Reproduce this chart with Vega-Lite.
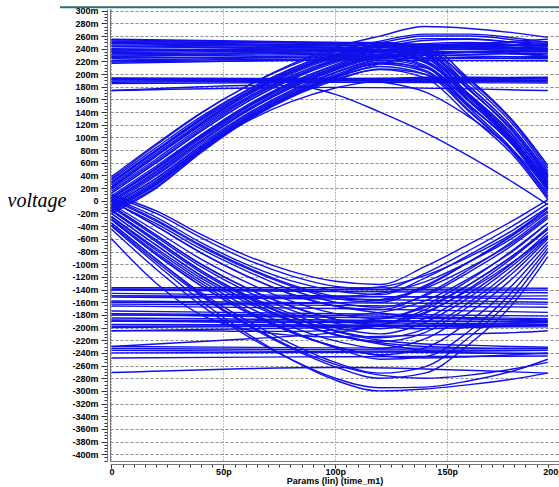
{
  "$schema": "https://vega.github.io/schema/vega-lite/v6.json",
  "width": 449,
  "height": 452,
  "autosize": {"type": "none"},
  "padding": {"left": 110, "top": 9, "right": 0, "bottom": 26},
  "background": "white",
  "config": {"view": {"stroke": null}},
  "layer": [
    {
      "data": {"values": [
        {"s":"u1","x":0,"y":255},{"s":"u1","x":100,"y":250},{"s":"u1","x":195,"y":240},
        {"s":"u2","x":0,"y":252},{"s":"u2","x":100,"y":248},{"s":"u2","x":195,"y":246},
        {"s":"u3","x":0,"y":249},{"s":"u3","x":100,"y":245},{"s":"u3","x":195,"y":251},
        {"s":"u4","x":0,"y":246},{"s":"u4","x":100,"y":243},{"s":"u4","x":195,"y":236},
        {"s":"u5","x":0,"y":243},{"s":"u5","x":100,"y":241},{"s":"u5","x":195,"y":255},
        {"s":"u6","x":0,"y":240},{"s":"u6","x":100,"y":238},{"s":"u6","x":195,"y":248},
        {"s":"u7","x":0,"y":236},{"s":"u7","x":100,"y":239},{"s":"u7","x":195,"y":230},
        {"s":"u8","x":0,"y":232},{"s":"u8","x":100,"y":235},{"s":"u8","x":195,"y":243},
        {"s":"u9","x":0,"y":228},{"s":"u9","x":100,"y":231},{"s":"u9","x":195,"y":226},
        {"s":"u10","x":0,"y":225},{"s":"u10","x":100,"y":229},{"s":"u10","x":195,"y":238},
        {"s":"u11","x":0,"y":222},{"s":"u11","x":100,"y":227},{"s":"u11","x":195,"y":233},
        {"s":"u12","x":0,"y":219},{"s":"u12","x":100,"y":222},{"s":"u12","x":195,"y":221},
        {"s":"u13","x":0,"y":217},{"s":"u13","x":100,"y":223},{"s":"u13","x":195,"y":228},
        {"s":"u14","x":0,"y":254},{"s":"u14","x":100,"y":249},{"s":"u14","x":195,"y":244},
        {"s":"u15","x":0,"y":250},{"s":"u15","x":100,"y":246},{"s":"u15","x":195,"y":241},
        {"s":"u16","x":0,"y":244},{"s":"u16","x":100,"y":242},{"s":"u16","x":195,"y":246},
        {"s":"u17","x":0,"y":238},{"s":"u17","x":100,"y":236},{"s":"u17","x":195,"y":233},
        {"s":"u18","x":0,"y":234},{"s":"u18","x":100,"y":237},{"s":"u18","x":195,"y":240},
        {"s":"u19","x":0,"y":230},{"s":"u19","x":100,"y":233},{"s":"u19","x":195,"y":236},
        {"s":"u20","x":0,"y":226},{"s":"u20","x":100,"y":226},{"s":"u20","x":195,"y":224},
        {"s":"u21","x":0,"y":221},{"s":"u21","x":100,"y":224},{"s":"u21","x":195,"y":225},
        {"s":"m1","x":0,"y":194},{"s":"m1","x":100,"y":193},{"s":"m1","x":195,"y":195},
        {"s":"m2","x":0,"y":192},{"s":"m2","x":100,"y":192},{"s":"m2","x":195,"y":193},
        {"s":"m3","x":0,"y":189},{"s":"m3","x":100,"y":190},{"s":"m3","x":195,"y":190},
        {"s":"m4","x":0,"y":187},{"s":"m4","x":100,"y":189},{"s":"m4","x":195,"y":188},
        {"s":"m5","x":0,"y":185},{"s":"m5","x":100,"y":187},{"s":"m5","x":195,"y":186},
        {"s":"m6","x":0,"y":174},{"s":"m6","x":100,"y":179},{"s":"m6","x":195,"y":174},
        {"s":"m7","x":0,"y":193},{"s":"m7","x":100,"y":191},{"s":"m7","x":195,"y":192},
        {"s":"l1","x":0,"y":-137},{"s":"l1","x":100,"y":-137},{"s":"l1","x":195,"y":-138},
        {"s":"l2","x":0,"y":-141},{"s":"l2","x":100,"y":-143},{"s":"l2","x":195,"y":-145},
        {"s":"l3","x":0,"y":-146},{"s":"l3","x":100,"y":-150},{"s":"l3","x":195,"y":-155},
        {"s":"l4","x":0,"y":-152},{"s":"l4","x":100,"y":-155},{"s":"l4","x":195,"y":-160},
        {"s":"l5","x":0,"y":-158},{"s":"l5","x":100,"y":-161},{"s":"l5","x":195,"y":-163},
        {"s":"l6","x":0,"y":-166},{"s":"l6","x":100,"y":-170},{"s":"l6","x":195,"y":-176},
        {"s":"l7","x":0,"y":-174},{"s":"l7","x":100,"y":-178},{"s":"l7","x":195,"y":-182},
        {"s":"l8","x":0,"y":-180},{"s":"l8","x":100,"y":-184},{"s":"l8","x":195,"y":-188},
        {"s":"l9","x":0,"y":-185},{"s":"l9","x":100,"y":-188},{"s":"l9","x":195,"y":-192},
        {"s":"l10","x":0,"y":-190},{"s":"l10","x":100,"y":-192},{"s":"l10","x":195,"y":-195},
        {"s":"l11","x":0,"y":-195},{"s":"l11","x":100,"y":-196},{"s":"l11","x":195,"y":-197},
        {"s":"l12","x":0,"y":-200},{"s":"l12","x":100,"y":-198},{"s":"l12","x":195,"y":-199},
        {"s":"l13","x":0,"y":-205},{"s":"l13","x":100,"y":-200},{"s":"l13","x":195,"y":-192},
        {"s":"l14","x":0,"y":-230},{"s":"l14","x":100,"y":-232},{"s":"l14","x":195,"y":-233},
        {"s":"l15","x":0,"y":-236},{"s":"l15","x":100,"y":-238},{"s":"l15","x":195,"y":-241},
        {"s":"l16","x":0,"y":-240},{"s":"l16","x":100,"y":-239},{"s":"l16","x":195,"y":-236},
        {"s":"l17","x":0,"y":-248},{"s":"l17","x":100,"y":-246},{"s":"l17","x":195,"y":-245},
        {"s":"l18","x":0,"y":-271},{"s":"l18","x":100,"y":-263},{"s":"l18","x":195,"y":-272},
        {"s":"l19","x":0,"y":-139},{"s":"l19","x":100,"y":-140},{"s":"l19","x":195,"y":-141},
        {"s":"l20","x":0,"y":-150},{"s":"l20","x":100,"y":-152},{"s":"l20","x":195,"y":-150},
        {"s":"l21","x":0,"y":-163},{"s":"l21","x":100,"y":-165},{"s":"l21","x":195,"y":-168},
        {"s":"l22","x":0,"y":-178},{"s":"l22","x":100,"y":-181},{"s":"l22","x":195,"y":-186},
        {"s":"l23","x":0,"y":-188},{"s":"l23","x":100,"y":-190},{"s":"l23","x":195,"y":-190},
        {"s":"l24","x":0,"y":-198},{"s":"l24","x":100,"y":-197},{"s":"l24","x":195,"y":-196},
        {"s":"l25","x":0,"y":-233},{"s":"l25","x":100,"y":-235},{"s":"l25","x":195,"y":-236},

        {"s":"a1","x":0,"y":38},{"s":"a1","x":20,"y":90},{"s":"a1","x":40,"y":139},{"s":"a1","x":60,"y":180},{"s":"a1","x":80,"y":213},{"s":"a1","x":100,"y":237},{"s":"a1","x":120,"y":250},{"s":"a1","x":140,"y":242},{"s":"a1","x":160,"y":186},{"s":"a1","x":180,"y":118},{"s":"a1","x":195,"y":48},
        {"s":"a2","x":0,"y":33},{"s":"a2","x":20,"y":84},{"s":"a2","x":40,"y":133},{"s":"a2","x":60,"y":174},{"s":"a2","x":80,"y":207},{"s":"a2","x":100,"y":231},{"s":"a2","x":120,"y":244},{"s":"a2","x":140,"y":232},{"s":"a2","x":160,"y":166},{"s":"a2","x":180,"y":96},{"s":"a2","x":195,"y":28},
        {"s":"a3","x":0,"y":25},{"s":"a3","x":20,"y":75},{"s":"a3","x":40,"y":124},{"s":"a3","x":60,"y":168},{"s":"a3","x":80,"y":202},{"s":"a3","x":100,"y":228},{"s":"a3","x":120,"y":246},{"s":"a3","x":140,"y":240},{"s":"a3","x":160,"y":180},{"s":"a3","x":180,"y":112},{"s":"a3","x":195,"y":42},
        {"s":"a4","x":0,"y":20},{"s":"a4","x":20,"y":70},{"s":"a4","x":40,"y":119},{"s":"a4","x":60,"y":162},{"s":"a4","x":80,"y":197},{"s":"a4","x":100,"y":222},{"s":"a4","x":120,"y":238},{"s":"a4","x":140,"y":226},{"s":"a4","x":160,"y":158},{"s":"a4","x":180,"y":88},{"s":"a4","x":195,"y":18},
        {"s":"a5","x":0,"y":12},{"s":"a5","x":20,"y":60},{"s":"a5","x":40,"y":110},{"s":"a5","x":60,"y":155},{"s":"a5","x":80,"y":191},{"s":"a5","x":100,"y":218},{"s":"a5","x":120,"y":237},{"s":"a5","x":140,"y":232},{"s":"a5","x":160,"y":174},{"s":"a5","x":180,"y":108},{"s":"a5","x":195,"y":38},
        {"s":"a6","x":0,"y":8},{"s":"a6","x":20,"y":55},{"s":"a6","x":40,"y":104},{"s":"a6","x":60,"y":150},{"s":"a6","x":80,"y":186},{"s":"a6","x":100,"y":213},{"s":"a6","x":120,"y":230},{"s":"a6","x":140,"y":220},{"s":"a6","x":160,"y":158},{"s":"a6","x":180,"y":92},{"s":"a6","x":195,"y":22},
        {"s":"a7","x":0,"y":3},{"s":"a7","x":20,"y":50},{"s":"a7","x":40,"y":100},{"s":"a7","x":60,"y":146},{"s":"a7","x":80,"y":182},{"s":"a7","x":100,"y":210},{"s":"a7","x":120,"y":226},{"s":"a7","x":140,"y":212},{"s":"a7","x":160,"y":146},{"s":"a7","x":180,"y":78},{"s":"a7","x":195,"y":8},
        {"s":"a8","x":0,"y":0},{"s":"a8","x":20,"y":47},{"s":"a8","x":40,"y":98},{"s":"a8","x":60,"y":143},{"s":"a8","x":80,"y":180},{"s":"a8","x":100,"y":208},{"s":"a8","x":120,"y":229},{"s":"a8","x":140,"y":224},{"s":"a8","x":160,"y":168},{"s":"a8","x":180,"y":102},{"s":"a8","x":195,"y":32},
        {"s":"a9","x":0,"y":-5},{"s":"a9","x":20,"y":40},{"s":"a9","x":40,"y":90},{"s":"a9","x":60,"y":136},{"s":"a9","x":80,"y":174},{"s":"a9","x":100,"y":203},{"s":"a9","x":120,"y":222},{"s":"a9","x":140,"y":211},{"s":"a9","x":160,"y":151},{"s":"a9","x":180,"y":85},{"s":"a9","x":195,"y":15},
        {"s":"a10","x":0,"y":-10},{"s":"a10","x":20,"y":32},{"s":"a10","x":40,"y":83},{"s":"a10","x":60,"y":130},{"s":"a10","x":80,"y":168},{"s":"a10","x":100,"y":197},{"s":"a10","x":120,"y":217},{"s":"a10","x":140,"y":210},{"s":"a10","x":160,"y":158},{"s":"a10","x":180,"y":96},{"s":"a10","x":195,"y":26},
        {"s":"a11","x":0,"y":-14},{"s":"a11","x":20,"y":26},{"s":"a11","x":40,"y":79},{"s":"a11","x":60,"y":128},{"s":"a11","x":80,"y":166},{"s":"a11","x":100,"y":194},{"s":"a11","x":120,"y":212},{"s":"a11","x":140,"y":200},{"s":"a11","x":160,"y":140},{"s":"a11","x":180,"y":74},{"s":"a11","x":195,"y":5},
        {"s":"a12","x":0,"y":-20},{"s":"a12","x":20,"y":20},{"s":"a12","x":40,"y":76},{"s":"a12","x":60,"y":125},{"s":"a12","x":80,"y":163},{"s":"a12","x":100,"y":190},{"s":"a12","x":120,"y":208},{"s":"a12","x":140,"y":200},{"s":"a12","x":160,"y":148},{"s":"a12","x":180,"y":89},{"s":"a12","x":195,"y":20},
        {"s":"a13","x":0,"y":-17},{"s":"a13","x":20,"y":22},{"s":"a13","x":40,"y":78},{"s":"a13","x":60,"y":126},{"s":"a13","x":80,"y":164},{"s":"a13","x":100,"y":192},{"s":"a13","x":120,"y":207},{"s":"a13","x":140,"y":194},{"s":"a13","x":160,"y":134},{"s":"a13","x":180,"y":70},{"s":"a13","x":195,"y":2},
        {"s":"a14","x":0,"y":174},{"s":"a14","x":20,"y":177},{"s":"a14","x":40,"y":180},{"s":"a14","x":60,"y":182},{"s":"a14","x":80,"y":182},{"s":"a14","x":100,"y":168},{"s":"a14","x":120,"y":140},{"s":"a14","x":140,"y":108},{"s":"a14","x":160,"y":70},{"s":"a14","x":180,"y":28},{"s":"a14","x":195,"y":-6},
        {"s":"a15","x":0,"y":30},{"s":"a15","x":20,"y":80},{"s":"a15","x":40,"y":128},{"s":"a15","x":60,"y":170},{"s":"a15","x":80,"y":204},{"s":"a15","x":100,"y":229},{"s":"a15","x":120,"y":243},{"s":"a15","x":140,"y":236},{"s":"a15","x":160,"y":176},{"s":"a15","x":180,"y":106},{"s":"a15","x":195,"y":36},
        {"s":"a16","x":0,"y":15},{"s":"a16","x":20,"y":63},{"s":"a16","x":40,"y":113},{"s":"a16","x":60,"y":158},{"s":"a16","x":80,"y":194},{"s":"a16","x":100,"y":220},{"s":"a16","x":120,"y":236},{"s":"a16","x":140,"y":222},{"s":"a16","x":160,"y":163},{"s":"a16","x":180,"y":96},{"s":"a16","x":195,"y":30},
        {"s":"a17","x":0,"y":5},{"s":"a17","x":20,"y":52},{"s":"a17","x":40,"y":102},{"s":"a17","x":60,"y":147},{"s":"a17","x":80,"y":184},{"s":"a17","x":100,"y":211},{"s":"a17","x":120,"y":228},{"s":"a17","x":140,"y":214},{"s":"a17","x":160,"y":156},{"s":"a17","x":180,"y":90},{"s":"a17","x":195,"y":24},
        {"s":"a18","x":0,"y":-8},{"s":"a18","x":20,"y":35},{"s":"a18","x":40,"y":85},{"s":"a18","x":60,"y":132},{"s":"a18","x":80,"y":170},{"s":"a18","x":100,"y":199},{"s":"a18","x":120,"y":219},{"s":"a18","x":140,"y":206},{"s":"a18","x":160,"y":150},{"s":"a18","x":180,"y":86},{"s":"a18","x":195,"y":20},
        {"s":"a19","x":0,"y":22},{"s":"a19","x":20,"y":72},{"s":"a19","x":40,"y":121},{"s":"a19","x":60,"y":165},{"s":"a19","x":80,"y":200},{"s":"a19","x":100,"y":226},{"s":"a19","x":120,"y":243},{"s":"a19","x":140,"y":244},{"s":"a19","x":160,"y":192},{"s":"a19","x":180,"y":124},{"s":"a19","x":195,"y":56},
        {"s":"a20","x":0,"y":0},{"s":"a20","x":20,"y":45},{"s":"a20","x":40,"y":95},{"s":"a20","x":60,"y":141},{"s":"a20","x":80,"y":178},{"s":"a20","x":100,"y":206},{"s":"a20","x":120,"y":226},{"s":"a20","x":140,"y":230},{"s":"a20","x":160,"y":180},{"s":"a20","x":180,"y":112},{"s":"a20","x":195,"y":45},
        {"s":"a21","x":0,"y":-12},{"s":"a21","x":20,"y":30},{"s":"a21","x":40,"y":82},{"s":"a21","x":60,"y":129},{"s":"a21","x":80,"y":167},{"s":"a21","x":100,"y":196},{"s":"a21","x":120,"y":216},{"s":"a21","x":140,"y":204},{"s":"a21","x":160,"y":142},{"s":"a21","x":180,"y":76},{"s":"a21","x":195,"y":12},
        {"s":"a22","x":0,"y":28},{"s":"a22","x":20,"y":78},{"s":"a22","x":40,"y":127},{"s":"a22","x":60,"y":170},{"s":"a22","x":80,"y":205},{"s":"a22","x":100,"y":230},{"s":"a22","x":120,"y":245},{"s":"a22","x":140,"y":230},{"s":"a22","x":160,"y":164},{"s":"a22","x":180,"y":94},{"s":"a22","x":195,"y":30},
        {"s":"h1","x":0,"y":248},{"s":"h1","x":20,"y":247},{"s":"h1","x":40,"y":246},{"s":"h1","x":60,"y":246},{"s":"h1","x":80,"y":246},{"s":"h1","x":100,"y":246},{"s":"h1","x":120,"y":244},{"s":"h1","x":140,"y":230},{"s":"h1","x":160,"y":175},{"s":"h1","x":180,"y":108},{"s":"h1","x":195,"y":40},
        {"s":"h2","x":0,"y":238},{"s":"h2","x":20,"y":238},{"s":"h2","x":40,"y":239},{"s":"h2","x":60,"y":240},{"s":"h2","x":80,"y":241},{"s":"h2","x":100,"y":241},{"s":"h2","x":120,"y":238},{"s":"h2","x":140,"y":220},{"s":"h2","x":160,"y":162},{"s":"h2","x":180,"y":94},{"s":"h2","x":195,"y":25},
        {"s":"h3","x":0,"y":228},{"s":"h3","x":20,"y":229},{"s":"h3","x":40,"y":231},{"s":"h3","x":60,"y":233},{"s":"h3","x":80,"y":235},{"s":"h3","x":100,"y":236},{"s":"h3","x":120,"y":233},{"s":"h3","x":140,"y":218},{"s":"h3","x":160,"y":166},{"s":"h3","x":180,"y":100},{"s":"h3","x":195,"y":35},
        {"s":"h4","x":0,"y":191},{"s":"h4","x":20,"y":191},{"s":"h4","x":40,"y":192},{"s":"h4","x":60,"y":192},{"s":"h4","x":80,"y":193},{"s":"h4","x":100,"y":193},{"s":"h4","x":120,"y":188},{"s":"h4","x":140,"y":172},{"s":"h4","x":160,"y":132},{"s":"h4","x":180,"y":78},{"s":"h4","x":195,"y":18},
        {"s":"h5","x":0,"y":252},{"s":"h5","x":20,"y":251},{"s":"h5","x":40,"y":250},{"s":"h5","x":60,"y":250},{"s":"h5","x":80,"y":250},{"s":"h5","x":100,"y":250},{"s":"h5","x":120,"y":250},{"s":"h5","x":140,"y":240},{"s":"h5","x":160,"y":190},{"s":"h5","x":180,"y":122},{"s":"h5","x":195,"y":52},
        {"s":"s1","x":0,"y":35},{"s":"s1","x":20,"y":88},{"s":"s1","x":40,"y":138},{"s":"s1","x":60,"y":180},{"s":"s1","x":80,"y":215},{"s":"s1","x":100,"y":242},{"s":"s1","x":120,"y":260},{"s":"s1","x":140,"y":275},{"s":"s1","x":160,"y":272},{"s":"s1","x":180,"y":265},{"s":"s1","x":195,"y":258},
        {"s":"s2","x":0,"y":28},{"s":"s2","x":20,"y":80},{"s":"s2","x":40,"y":130},{"s":"s2","x":60,"y":173},{"s":"s2","x":80,"y":208},{"s":"s2","x":100,"y":235},{"s":"s2","x":120,"y":252},{"s":"s2","x":140,"y":263},{"s":"s2","x":160,"y":263},{"s":"s2","x":180,"y":257},{"s":"s2","x":195,"y":250},
        {"s":"s3","x":0,"y":18},{"s":"s3","x":20,"y":66},{"s":"s3","x":40,"y":116},{"s":"s3","x":60,"y":160},{"s":"s3","x":80,"y":196},{"s":"s3","x":100,"y":224},{"s":"s3","x":120,"y":244},{"s":"s3","x":140,"y":256},{"s":"s3","x":160,"y":256},{"s":"s3","x":180,"y":250},{"s":"s3","x":195,"y":244},
        {"s":"s4","x":0,"y":5},{"s":"s4","x":20,"y":52},{"s":"s4","x":40,"y":103},{"s":"s4","x":60,"y":148},{"s":"s4","x":80,"y":186},{"s":"s4","x":100,"y":215},{"s":"s4","x":120,"y":236},{"s":"s4","x":140,"y":248},{"s":"s4","x":160,"y":250},{"s":"s4","x":180,"y":246},{"s":"s4","x":195,"y":240},
        {"s":"s5","x":0,"y":-6},{"s":"s5","x":20,"y":36},{"s":"s5","x":40,"y":87},{"s":"s5","x":60,"y":134},{"s":"s5","x":80,"y":172},{"s":"s5","x":100,"y":202},{"s":"s5","x":120,"y":224},{"s":"s5","x":140,"y":238},{"s":"s5","x":160,"y":242},{"s":"s5","x":180,"y":240},{"s":"s5","x":195,"y":236},
        {"s":"s6","x":0,"y":-15},{"s":"s6","x":20,"y":25},{"s":"s6","x":40,"y":80},{"s":"s6","x":60,"y":128},{"s":"s6","x":80,"y":166},{"s":"s6","x":100,"y":195},{"s":"s6","x":120,"y":216},{"s":"s6","x":140,"y":230},{"s":"s6","x":160,"y":234},{"s":"s6","x":180,"y":232},{"s":"s6","x":195,"y":228},
        {"s":"s7","x":0,"y":-12},{"s":"s7","x":20,"y":28},{"s":"s7","x":40,"y":80},{"s":"s7","x":60,"y":124},{"s":"s7","x":80,"y":156},{"s":"s7","x":100,"y":178},{"s":"s7","x":120,"y":190},{"s":"s7","x":140,"y":195},{"s":"s7","x":160,"y":195},{"s":"s7","x":180,"y":194},{"s":"s7","x":195,"y":193},
        {"s":"s8","x":0,"y":12},{"s":"s8","x":20,"y":60},{"s":"s8","x":40,"y":110},{"s":"s8","x":60,"y":155},{"s":"s8","x":80,"y":192},{"s":"s8","x":100,"y":221},{"s":"s8","x":120,"y":241},{"s":"s8","x":140,"y":253},{"s":"s8","x":160,"y":255},{"s":"s8","x":180,"y":250},{"s":"s8","x":195,"y":246},
        {"s":"s9","x":0,"y":22},{"s":"s9","x":20,"y":72},{"s":"s9","x":40,"y":122},{"s":"s9","x":60,"y":166},{"s":"s9","x":80,"y":202},{"s":"s9","x":100,"y":230},{"s":"s9","x":120,"y":249},{"s":"s9","x":140,"y":260},{"s":"s9","x":160,"y":260},{"s":"s9","x":180,"y":254},{"s":"s9","x":195,"y":247},
        {"s":"s10","x":0,"y":-2},{"s":"s10","x":20,"y":42},{"s":"s10","x":40,"y":93},{"s":"s10","x":60,"y":140},{"s":"s10","x":80,"y":178},{"s":"s10","x":100,"y":208},{"s":"s10","x":120,"y":229},{"s":"s10","x":140,"y":242},{"s":"s10","x":160,"y":245},{"s":"s10","x":180,"y":242},{"s":"s10","x":195,"y":238},
        {"s":"d1","x":0,"y":10},{"s":"d1","x":20,"y":-16},{"s":"d1","x":40,"y":-53},{"s":"d1","x":60,"y":-86},{"s":"d1","x":80,"y":-111},{"s":"d1","x":100,"y":-127},{"s":"d1","x":120,"y":-132},{"s":"d1","x":140,"y":-104},{"s":"d1","x":160,"y":-68},{"s":"d1","x":180,"y":-30},{"s":"d1","x":195,"y":2},
        {"s":"d2","x":0,"y":5},{"s":"d2","x":20,"y":-26},{"s":"d2","x":40,"y":-66},{"s":"d2","x":60,"y":-100},{"s":"d2","x":80,"y":-126},{"s":"d2","x":100,"y":-142},{"s":"d2","x":120,"y":-148},{"s":"d2","x":140,"y":-122},{"s":"d2","x":160,"y":-85},{"s":"d2","x":180,"y":-45},{"s":"d2","x":195,"y":-10},
        {"s":"d3","x":0,"y":0},{"s":"d3","x":20,"y":-40},{"s":"d3","x":40,"y":-82},{"s":"d3","x":60,"y":-118},{"s":"d3","x":80,"y":-147},{"s":"d3","x":100,"y":-166},{"s":"d3","x":120,"y":-172},{"s":"d3","x":140,"y":-148},{"s":"d3","x":160,"y":-108},{"s":"d3","x":180,"y":-62},{"s":"d3","x":195,"y":-22},
        {"s":"d4","x":0,"y":-5},{"s":"d4","x":20,"y":-48},{"s":"d4","x":40,"y":-92},{"s":"d4","x":60,"y":-128},{"s":"d4","x":80,"y":-158},{"s":"d4","x":100,"y":-178},{"s":"d4","x":120,"y":-186},{"s":"d4","x":140,"y":-165},{"s":"d4","x":160,"y":-125},{"s":"d4","x":180,"y":-76},{"s":"d4","x":195,"y":-35},
        {"s":"d5","x":0,"y":-8},{"s":"d5","x":20,"y":-54},{"s":"d5","x":40,"y":-100},{"s":"d5","x":60,"y":-137},{"s":"d5","x":80,"y":-166},{"s":"d5","x":100,"y":-187},{"s":"d5","x":120,"y":-195},{"s":"d5","x":140,"y":-178},{"s":"d5","x":160,"y":-138},{"s":"d5","x":180,"y":-88},{"s":"d5","x":195,"y":-45},
        {"s":"d6","x":0,"y":-14},{"s":"d6","x":20,"y":-62},{"s":"d6","x":40,"y":-110},{"s":"d6","x":60,"y":-148},{"s":"d6","x":80,"y":-178},{"s":"d6","x":100,"y":-200},{"s":"d6","x":120,"y":-210},{"s":"d6","x":140,"y":-192},{"s":"d6","x":160,"y":-152},{"s":"d6","x":180,"y":-100},{"s":"d6","x":195,"y":-55},
        {"s":"d7","x":0,"y":-20},{"s":"d7","x":20,"y":-70},{"s":"d7","x":40,"y":-118},{"s":"d7","x":60,"y":-156},{"s":"d7","x":80,"y":-188},{"s":"d7","x":100,"y":-211},{"s":"d7","x":120,"y":-222},{"s":"d7","x":140,"y":-208},{"s":"d7","x":160,"y":-166},{"s":"d7","x":180,"y":-112},{"s":"d7","x":195,"y":-60},
        {"s":"d8","x":0,"y":-30},{"s":"d8","x":20,"y":-85},{"s":"d8","x":40,"y":-134},{"s":"d8","x":60,"y":-175},{"s":"d8","x":80,"y":-207},{"s":"d8","x":100,"y":-230},{"s":"d8","x":120,"y":-243},{"s":"d8","x":140,"y":-232},{"s":"d8","x":160,"y":-190},{"s":"d8","x":180,"y":-130},{"s":"d8","x":195,"y":-70},
        {"s":"d9","x":0,"y":-35},{"s":"d9","x":20,"y":-92},{"s":"d9","x":40,"y":-145},{"s":"d9","x":60,"y":-188},{"s":"d9","x":80,"y":-225},{"s":"d9","x":100,"y":-255},{"s":"d9","x":120,"y":-272},{"s":"d9","x":140,"y":-262},{"s":"d9","x":160,"y":-215},{"s":"d9","x":180,"y":-150},{"s":"d9","x":195,"y":-80},
        {"s":"d10","x":0,"y":2},{"s":"d10","x":20,"y":-32},{"s":"d10","x":40,"y":-72},{"s":"d10","x":60,"y":-106},{"s":"d10","x":80,"y":-134},{"s":"d10","x":100,"y":-154},{"s":"d10","x":120,"y":-160},{"s":"d10","x":140,"y":-136},{"s":"d10","x":160,"y":-96},{"s":"d10","x":180,"y":-52},{"s":"d10","x":195,"y":-12},
        {"s":"d11","x":0,"y":-2},{"s":"d11","x":20,"y":-36},{"s":"d11","x":40,"y":-76},{"s":"d11","x":60,"y":-110},{"s":"d11","x":80,"y":-140},{"s":"d11","x":100,"y":-160},{"s":"d11","x":120,"y":-168},{"s":"d11","x":140,"y":-150},{"s":"d11","x":160,"y":-112},{"s":"d11","x":180,"y":-68},{"s":"d11","x":195,"y":-28},
        {"s":"d12","x":0,"y":8},{"s":"d12","x":20,"y":-20},{"s":"d12","x":40,"y":-58},{"s":"d12","x":60,"y":-92},{"s":"d12","x":80,"y":-118},{"s":"d12","x":100,"y":-135},{"s":"d12","x":120,"y":-140},{"s":"d12","x":140,"y":-115},{"s":"d12","x":160,"y":-78},{"s":"d12","x":180,"y":-38},{"s":"d12","x":195,"y":-4},
        {"s":"d13","x":0,"y":-25},{"s":"d13","x":20,"y":-78},{"s":"d13","x":40,"y":-126},{"s":"d13","x":60,"y":-166},{"s":"d13","x":80,"y":-198},{"s":"d13","x":100,"y":-221},{"s":"d13","x":120,"y":-233},{"s":"d13","x":140,"y":-218},{"s":"d13","x":160,"y":-176},{"s":"d13","x":180,"y":-120},{"s":"d13","x":195,"y":-65},
        {"s":"d14","x":0,"y":-38},{"s":"d14","x":20,"y":-96},{"s":"d14","x":40,"y":-150},{"s":"d14","x":60,"y":-195},{"s":"d14","x":80,"y":-232},{"s":"d14","x":100,"y":-262},{"s":"d14","x":120,"y":-280},{"s":"d14","x":140,"y":-272},{"s":"d14","x":160,"y":-226},{"s":"d14","x":180,"y":-160},{"s":"d14","x":195,"y":-88},
        {"s":"d15","x":0,"y":-28},{"s":"d15","x":20,"y":-82},{"s":"d15","x":40,"y":-130},{"s":"d15","x":60,"y":-172},{"s":"d15","x":80,"y":-205},{"s":"d15","x":100,"y":-232},{"s":"d15","x":120,"y":-250},{"s":"d15","x":140,"y":-246},{"s":"d15","x":160,"y":-205},{"s":"d15","x":180,"y":-140},{"s":"d15","x":195,"y":-75},
        {"s":"d16","x":0,"y":-10},{"s":"d16","x":20,"y":-57},{"s":"d16","x":40,"y":-104},{"s":"d16","x":60,"y":-142},{"s":"d16","x":80,"y":-172},{"s":"d16","x":100,"y":-193},{"s":"d16","x":120,"y":-202},{"s":"d16","x":140,"y":-186},{"s":"d16","x":160,"y":-146},{"s":"d16","x":180,"y":-96},{"s":"d16","x":195,"y":-50},
        {"s":"d17","x":0,"y":4},{"s":"d17","x":20,"y":-30},{"s":"d17","x":40,"y":-70},{"s":"d17","x":60,"y":-104},{"s":"d17","x":80,"y":-132},{"s":"d17","x":100,"y":-151},{"s":"d17","x":120,"y":-157},{"s":"d17","x":140,"y":-134},{"s":"d17","x":160,"y":-96},{"s":"d17","x":180,"y":-53},{"s":"d17","x":195,"y":-16},
        {"s":"d18","x":0,"y":-16},{"s":"d18","x":20,"y":-65},{"s":"d18","x":40,"y":-113},{"s":"d18","x":60,"y":-152},{"s":"d18","x":80,"y":-183},{"s":"d18","x":100,"y":-205},{"s":"d18","x":120,"y":-216},{"s":"d18","x":140,"y":-202},{"s":"d18","x":160,"y":-160},{"s":"d18","x":180,"y":-106},{"s":"d18","x":195,"y":-57},
        {"s":"p1","x":0,"y":-40},{"s":"p1","x":20,"y":-100},{"s":"p1","x":40,"y":-158},{"s":"p1","x":60,"y":-208},{"s":"p1","x":80,"y":-250},{"s":"p1","x":100,"y":-283},{"s":"p1","x":120,"y":-300},{"s":"p1","x":140,"y":-297},{"s":"p1","x":160,"y":-290},{"s":"p1","x":180,"y":-281},{"s":"p1","x":195,"y":-272},
        {"s":"p2","x":0,"y":-30},{"s":"p2","x":20,"y":-85},{"s":"p2","x":40,"y":-134},{"s":"p2","x":60,"y":-175},{"s":"p2","x":80,"y":-207},{"s":"p2","x":100,"y":-230},{"s":"p2","x":120,"y":-244},{"s":"p2","x":140,"y":-248},{"s":"p2","x":160,"y":-246},{"s":"p2","x":180,"y":-243},{"s":"p2","x":195,"y":-240},
        {"s":"p3","x":0,"y":-20},{"s":"p3","x":20,"y":-70},{"s":"p3","x":40,"y":-118},{"s":"p3","x":60,"y":-156},{"s":"p3","x":80,"y":-188},{"s":"p3","x":100,"y":-211},{"s":"p3","x":120,"y":-224},{"s":"p3","x":140,"y":-230},{"s":"p3","x":160,"y":-232},{"s":"p3","x":180,"y":-233},{"s":"p3","x":195,"y":-233},
        {"s":"p4","x":0,"y":-8},{"s":"p4","x":20,"y":-54},{"s":"p4","x":40,"y":-100},{"s":"p4","x":60,"y":-137},{"s":"p4","x":80,"y":-166},{"s":"p4","x":100,"y":-187},{"s":"p4","x":120,"y":-198},{"s":"p4","x":140,"y":-202},{"s":"p4","x":160,"y":-200},{"s":"p4","x":180,"y":-198},{"s":"p4","x":195,"y":-196},
        {"s":"p5","x":0,"y":0},{"s":"p5","x":20,"y":-40},{"s":"p5","x":40,"y":-82},{"s":"p5","x":60,"y":-118},{"s":"p5","x":80,"y":-147},{"s":"p5","x":100,"y":-166},{"s":"p5","x":120,"y":-177},{"s":"p5","x":140,"y":-183},{"s":"p5","x":160,"y":-186},{"s":"p5","x":180,"y":-188},{"s":"p5","x":195,"y":-190},
        {"s":"p6","x":0,"y":-60},{"s":"p6","x":20,"y":-130},{"s":"p6","x":40,"y":-180},{"s":"p6","x":60,"y":-203},{"s":"p6","x":80,"y":-212},{"s":"p6","x":100,"y":-215},{"s":"p6","x":120,"y":-214},{"s":"p6","x":140,"y":-212},{"s":"p6","x":160,"y":-210},{"s":"p6","x":180,"y":-208},{"s":"p6","x":195,"y":-205},
        {"s":"p7","x":0,"y":-25},{"s":"p7","x":20,"y":-75},{"s":"p7","x":40,"y":-122},{"s":"p7","x":60,"y":-160},{"s":"p7","x":80,"y":-190},{"s":"p7","x":100,"y":-212},{"s":"p7","x":120,"y":-226},{"s":"p7","x":140,"y":-236},{"s":"p7","x":160,"y":-240},{"s":"p7","x":180,"y":-241},{"s":"p7","x":195,"y":-241},
        {"s":"p8","x":0,"y":-35},{"s":"p8","x":20,"y":-92},{"s":"p8","x":40,"y":-148},{"s":"p8","x":60,"y":-193},{"s":"p8","x":80,"y":-230},{"s":"p8","x":100,"y":-258},{"s":"p8","x":120,"y":-275},{"s":"p8","x":140,"y":-280},{"s":"p8","x":160,"y":-275},{"s":"p8","x":180,"y":-265},{"s":"p8","x":195,"y":-255},
        {"s":"p9","x":0,"y":-45},{"s":"p9","x":20,"y":-108},{"s":"p9","x":40,"y":-165},{"s":"p9","x":60,"y":-212},{"s":"p9","x":80,"y":-250},{"s":"p9","x":100,"y":-280},{"s":"p9","x":120,"y":-295},{"s":"p9","x":140,"y":-294},{"s":"p9","x":160,"y":-284},{"s":"p9","x":180,"y":-268},{"s":"p9","x":195,"y":-250},
        {"s":"p10","x":0,"y":-15},{"s":"p10","x":20,"y":-62},{"s":"p10","x":40,"y":-110},{"s":"p10","x":60,"y":-150},{"s":"p10","x":80,"y":-182},{"s":"p10","x":100,"y":-206},{"s":"p10","x":120,"y":-220},{"s":"p10","x":140,"y":-226},{"s":"p10","x":160,"y":-228},{"s":"p10","x":180,"y":-230},{"s":"p10","x":195,"y":-231},
        {"s":"w1","x":0,"y":-140},{"s":"w1","x":20,"y":-140},{"s":"w1","x":40,"y":-140},{"s":"w1","x":60,"y":-141},{"s":"w1","x":80,"y":-141},{"s":"w1","x":100,"y":-140},{"s":"w1","x":120,"y":-136},{"s":"w1","x":140,"y":-118},{"s":"w1","x":160,"y":-88},{"s":"w1","x":180,"y":-50},{"s":"w1","x":195,"y":-12},
        {"s":"w2","x":0,"y":-160},{"s":"w2","x":20,"y":-160},{"s":"w2","x":40,"y":-161},{"s":"w2","x":60,"y":-162},{"s":"w2","x":80,"y":-162},{"s":"w2","x":100,"y":-161},{"s":"w2","x":120,"y":-156},{"s":"w2","x":140,"y":-138},{"s":"w2","x":160,"y":-105},{"s":"w2","x":180,"y":-65},{"s":"w2","x":195,"y":-25},
        {"s":"w3","x":0,"y":-190},{"s":"w3","x":20,"y":-190},{"s":"w3","x":40,"y":-191},{"s":"w3","x":60,"y":-192},{"s":"w3","x":80,"y":-192},{"s":"w3","x":100,"y":-191},{"s":"w3","x":120,"y":-186},{"s":"w3","x":140,"y":-168},{"s":"w3","x":160,"y":-132},{"s":"w3","x":180,"y":-85},{"s":"w3","x":195,"y":-42},
        {"s":"w4","x":0,"y":-230},{"s":"w4","x":20,"y":-226},{"s":"w4","x":40,"y":-222},{"s":"w4","x":60,"y":-218},{"s":"w4","x":80,"y":-214},{"s":"w4","x":100,"y":-208},{"s":"w4","x":120,"y":-196},{"s":"w4","x":140,"y":-172},{"s":"w4","x":160,"y":-132},{"s":"w4","x":180,"y":-85},{"s":"w4","x":195,"y":-45},
        {"s":"w5","x":0,"y":-205},{"s":"w5","x":20,"y":-205},{"s":"w5","x":40,"y":-205},{"s":"w5","x":60,"y":-206},{"s":"w5","x":80,"y":-206},{"s":"w5","x":100,"y":-204},{"s":"w5","x":120,"y":-196},{"s":"w5","x":140,"y":-176},{"s":"w5","x":160,"y":-140},{"s":"w5","x":180,"y":-95},{"s":"w5","x":195,"y":-55},
        {"s":"w6","x":0,"y":-150},{"s":"w6","x":20,"y":-150},{"s":"w6","x":40,"y":-151},{"s":"w6","x":60,"y":-152},{"s":"w6","x":80,"y":-152},{"s":"w6","x":100,"y":-151},{"s":"w6","x":120,"y":-146},{"s":"w6","x":140,"y":-128},{"s":"w6","x":160,"y":-96},{"s":"w6","x":180,"y":-57},{"s":"w6","x":195,"y":-18},
        {"s":"w7","x":0,"y":-180},{"s":"w7","x":20,"y":-180},{"s":"w7","x":40,"y":-181},{"s":"w7","x":60,"y":-182},{"s":"w7","x":80,"y":-182},{"s":"w7","x":100,"y":-181},{"s":"w7","x":120,"y":-176},{"s":"w7","x":140,"y":-158},{"s":"w7","x":160,"y":-122},{"s":"w7","x":180,"y":-78},{"s":"w7","x":195,"y":-35}
      ]},
      "mark": {"type": "line", "interpolate": "monotone", "color": "#1010ea", "strokeWidth": 1.4},
      "encoding": {
        "x": {
          "field": "x", "type": "quantitative",
          "scale": {"domain": [-0.67, 200], "nice": false, "zero": false},
          "axis": {
            "orient": "bottom", "offset": 3,
            "values": [0,5,10,15,20,25,30,35,40,45,50,55,60,65,70,75,80,85,90,95,100,105,110,115,120,125,130,135,140,145,150,155,160,165,170,175,180,185,190,195,200],
            "labelExpr": "datum.value % 50 === 0 ? (datum.value === 0 ? '0' : datum.value + 'p') : ''",
            "labelOffset": {"condition": {"test": "datum.value === 200", "value": -6}, "value": 0},
            "tickSize": {"condition": {"test": "datum.value % 50 === 0", "value": 4}, "value": 3},
            "tickColor": "#333333",
            "domainColor": "#777777",
            "grid": true,
            "gridOpacity": {"condition": {"test": "datum.value % 50 === 0", "value": 1}, "value": 0},
            "gridColor": "#777777", "gridDash": [1, 2],
            "labelFont": "Liberation Sans", "labelFontWeight": "bold", "labelFontSize": 9, "labelColor": "black",
            "labelPadding": -1, "labelOverlap": false, "labelBound": false, "labelFlush": false,
            "title": "Params (lin) (time_m1)",
            "titleFont": "Liberation Sans", "titleFontWeight": "bold", "titleFontSize": 9, "titleColor": "black",
            "titlePadding": 0
          }
        },
        "y": {
          "field": "y", "type": "quantitative",
          "scale": {"domain": [-410.6, 302.7], "nice": false, "zero": false},
          "axis": {
            "orient": "left", "offset": 3,
            "values": [-410,-405,-400,-395,-390,-385,-380,-375,-370,-365,-360,-355,-350,-345,-340,-335,-330,-325,-320,-315,-310,-305,-300,-295,-290,-285,-280,-275,-270,-265,-260,-255,-250,-245,-240,-235,-230,-225,-220,-215,-210,-205,-200,-195,-190,-185,-180,-175,-170,-165,-160,-155,-150,-145,-140,-135,-130,-125,-120,-115,-110,-105,-100,-95,-90,-85,-80,-75,-70,-65,-60,-55,-50,-45,-40,-35,-30,-25,-20,-15,-10,-5,0,5,10,15,20,25,30,35,40,45,50,55,60,65,70,75,80,85,90,95,100,105,110,115,120,125,130,135,140,145,150,155,160,165,170,175,180,185,190,195,200,205,210,215,220,225,230,235,240,245,250,255,260,265,270,275,280,285,290,295,300],
            "labelExpr": "datum.value % 20 === 0 ? (datum.value === 0 ? '0' : datum.value + 'm') : ''",
            "tickSize": {"condition": {"test": "datum.value % 20 === 0", "value": 6}, "value": 3},
            "tickColor": "#333333",
            "domainColor": "#777777",
            "grid": true,
            "gridOpacity": {"condition": {"test": "datum.value % 20 === 0", "value": 1}, "value": 0},
            "gridColor": "#8a8a8a", "gridDash": [3, 2],
            "labelFont": "Liberation Sans", "labelFontWeight": "bold", "labelFontSize": 9, "labelColor": "black",
            "labelPadding": 3, "labelOverlap": false, "labelBound": false, "labelFlush": false,
            "title": "voltage",
            "titleFont": "Liberation Serif", "titleFontStyle": "italic", "titleFontWeight": "normal", "titleFontSize": 20, "titleColor": "black",
            "titleAngle": 0, "titleAlign": "left", "titleBaseline": "middle",
            "titleX": -100, "titleY": 191
          }
        },
        "detail": {"field": "s", "type": "nominal"}
      }
    },
    {
      "data": {"values": [{"left": -23, "right": 200, "top": 305.5}]},
      "mark": {"type": "rule", "color": "#2b7070", "strokeWidth": 2},
      "encoding": {
        "x": {"field": "left", "type": "quantitative",
          "axis": {"orient": "bottom", "offset": 0, "domain": true, "domainColor": "#777777", "ticks": false, "labels": false, "grid": false, "title": null}},
        "x2": {"field": "right"},
        "y": {"field": "top", "type": "quantitative",
          "axis": {"orient": "left", "offset": 0, "domain": true, "domainColor": "#777777", "ticks": false, "labels": false, "grid": false, "title": null}}
      }
    }
  ],
  "resolve": {"axis": {"x": "independent", "y": "independent"}}
}
